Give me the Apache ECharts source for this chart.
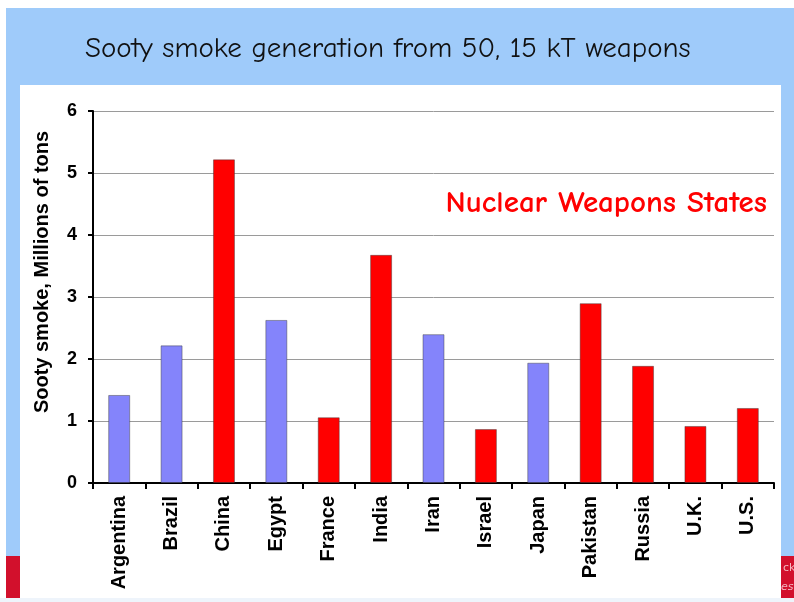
<!DOCTYPE html>
<html>
<head>
<meta charset="utf-8">
<script src="https://cdn.jsdelivr.net/npm/echarts@6/dist/echarts.min.js"></script>
<style>
  html, body { margin: 0; padding: 0; background: #ffffff; }
  #chart { width: 794px; height: 602px; }
</style>
</head>
<body>
<div id="chart"></div>
<script>
// Soot generated by a regional exchange of 50 weapons of 15 kT each
var countries = ['Argentina', 'Brazil', 'China', 'Egypt', 'France', 'India', 'Iran',
                 'Israel', 'Japan', 'Pakistan', 'Russia', 'U.K.', 'U.S.'];
var sootMillionTons = [1.42, 2.22, 5.22, 2.63, 1.06, 3.68, 2.40, 0.87, 1.94, 2.90, 1.89, 0.92, 1.21];
var isNuclearState = [false, false, true, false, true, true, false, true, false, true, true, true, true];
var yTicks = [0, 1, 2, 3, 4, 5, 6];

var NUCLEAR_RED = '#ff0000';
var OTHER_BLUE = '#8484fb';
var LABEL_FONT = 'Liberation Sans, Arial, sans-serif';

var barData = sootMillionTons.map(function (v, i) {
  return {
    value: v,
    itemStyle: { color: isNuclearState[i] ? NUCLEAR_RED : OTHER_BLUE }
  };
});

var chart = echarts.init(document.getElementById('chart'), null, { renderer: 'canvas' });

chart.setOption({
  animation: false,
  backgroundColor: '#ffffff',
  graphic: [
    // slide background
    { type: 'rect', z: -10, shape: { x: 6, y: 8, width: 788, height: 594 },
      style: { fill: '#9fcbfa' } },
    // red footer strips
    { type: 'rect', z: -9, shape: { x: 6, y: 556, width: 16, height: 42 },
      style: { fill: '#d2102c' } },
    { type: 'rect', z: -9, shape: { x: 780, y: 556, width: 14, height: 42 },
      style: { fill: '#d2102c' } },
    { type: 'text', z: -8, style: { x: 783, y: 568, text: 'ck', fill: '#f4b7c0',
      font: '11px "DejaVu Sans"', textVerticalAlign: 'middle' } },
    { type: 'text', z: -8, style: { x: 781, y: 587, text: 'es', fill: '#f4b7c0',
      font: 'italic 11px "DejaVu Sans"', textVerticalAlign: 'middle' } },
    // white chart panel
    { type: 'rect', z: -7, shape: { x: 20, y: 85, width: 761, height: 513 },
      style: { fill: '#ffffff' } },
    // light strip under the slide
    { type: 'rect', z: -6, shape: { x: 0, y: 598, width: 794, height: 4 },
      style: { fill: '#eef4fb' } },
    // slide title
    { type: 'text', z: 5, style: { x: 85, y: 49,
      text: 'Sooty smoke generation from 50, 15 kT weapons',
      fill: '#111111', font: '29px "Comic Sans MS", "Comic Neue", "DejaVu Sans"',
      textVerticalAlign: 'middle' } },
    // note for the red bars
    { type: 'text', z: 5, style: { x: 767, y: 203,
      text: 'Nuclear Weapons States', textAlign: 'right',
      fill: '#ff0000', font: 'bold 31px "Comic Sans MS", "Comic Neue", "DejaVu Sans"',
      textVerticalAlign: 'middle' } }
  ],
  grid: { left: 93, right: 20, top: 111, bottom: 119, containLabel: false },
  xAxis: {
    type: 'category',
    data: countries,
    axisLine: { show: true, lineStyle: { color: '#000000', width: 2 } },
    axisTick: { show: true, length: 6, lineStyle: { color: '#000000', width: 2 } },
    axisLabel: {
      rotate: 90, margin: 13, color: '#000000',
      fontFamily: LABEL_FONT, fontWeight: 'bold', fontSize: 20
    },
    splitLine: { show: false }
  },
  yAxis: {
    type: 'value',
    min: yTicks[0],
    max: yTicks[yTicks.length - 1],
    interval: 1,
    name: 'Sooty smoke, Millions of tons',
    nameLocation: 'middle',
    nameGap: 41,
    nameTextStyle: {
      color: '#000000', fontFamily: LABEL_FONT,
      fontWeight: 'bold', fontSize: 20,
      padding: [0, 0, 0, 50]
    },
    axisLine: { show: true, lineStyle: { color: '#000000', width: 2 } },
    axisTick: { show: true, length: 5, lineStyle: { color: '#000000', width: 2 } },
    axisLabel: {
      margin: 16, color: '#000000',
      fontFamily: LABEL_FONT, fontWeight: 'bold', fontSize: 18
    },
    splitLine: { show: true, lineStyle: { color: '#9a9a9a', width: 1 } }
  },
  series: [{
    type: 'bar',
    data: barData,
    barWidth: 22,
    itemStyle: { borderColor: 'rgba(60,60,60,0.45)', borderWidth: 1 }
  }]
});
</script>
</body>
</html>
